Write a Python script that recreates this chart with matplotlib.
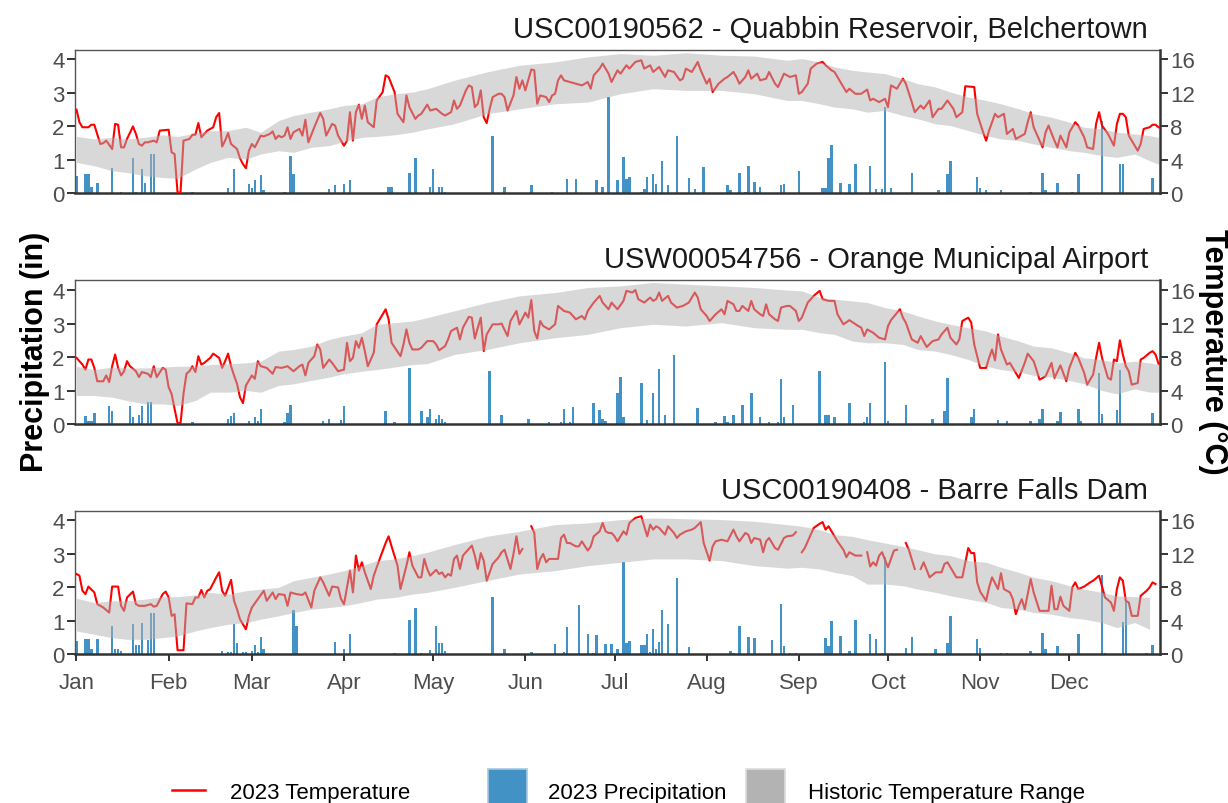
import numpy as np
import matplotlib
matplotlib.use("Agg")
import matplotlib.pyplot as plt
from matplotlib.lines import Line2D
from matplotlib.patches import Rectangle

plt.rcParams['font.family'] = ['Liberation Sans', 'DejaVu Sans']

nan = np.nan

# day-of-year axis (0 = Jan 1, 2023)
MONTH_STARTS = [0, 31, 59, 90, 120, 151, 181, 212, 243, 273, 304, 334]
MONTH_LABELS = ['Jan', 'Feb', 'Mar', 'Apr', 'May', 'Jun',
                'Jul', 'Aug', 'Sep', 'Oct', 'Nov', 'Dec']

TITLES = ['USC00190562 - Quabbin Reservoir, Belchertown',
          'USW00054756 - Orange Municipal Airport',
          'USC00190408 - Barre Falls Dam']

# historic temperature range (deg C), sampled on these days
BAND_DAYS = [0, 6, 12, 17, 23, 29, 34, 40, 45, 51, 57, 62, 68, 73, 79, 85, 90, 96,
             101, 107, 113, 118, 127, 138, 149, 161, 172, 183, 194, 205, 217, 228,
             239, 244, 250, 255, 261, 266, 272, 278, 283, 289, 294, 300, 306, 311,
             317, 322, 328, 334, 339, 345, 350, 356, 361, 364]

quabbin_hi = [6.8, 6.5, 6.7, 6.5, 6.7, 7.0, 6.8, 7.2, 7.5, 7.5, 7.9, 7.3, 8.7, 9.3,
              9.7, 10.1, 10.5, 10.7, 11.5, 11.9, 12.1, 12.5, 13.5, 14.5, 15.3, 15.7,
              16.3, 16.7, 16.5, 16.8, 16.5, 16.4, 15.9, 16.1, 15.7, 15.1, 14.7, 14.5,
              14.3, 13.7, 13.1, 12.7, 12.1, 11.5, 11.1, 10.7, 10.1, 9.5, 9.1, 8.5,
              7.9, 7.7, 7.3, 7.1, 6.9, 6.7]
quabbin_lo = [3.7, 3.3, 2.7, 2.5, 2.1, 1.9, 1.8, 2.9, 3.7, 4.3, 4.1, 4.7, 5.1, 4.9,
              5.5, 5.7, 6.2, 6.7, 6.8, 7.0, 7.3, 7.7, 8.3, 9.5, 10.1, 10.7, 10.9, 11.9,
              12.5, 12.3, 12.3, 11.9, 11.1, 11.1, 10.7, 10.3, 10.1, 9.7, 9.9, 9.3,
              8.9, 8.3, 8.1, 7.5, 6.9, 6.5, 6.3, 5.9, 5.5, 5.1, 4.9, 4.5, 4.3, 4.7,
              3.9, 3.5]

orange_hi = [6.9, 6.5, 6.8, 6.7, 6.7, 6.8, 6.9, 6.9, 7.1, 7.2, 7.3, 7.5, 8.7, 8.9,
             9.3, 10.1, 10.5, 10.9, 11.9, 12.1, 12.3, 12.7, 13.5, 14.5, 15.3, 15.7,
             16.3, 16.5, 16.9, 16.7, 16.5, 16.3, 16.0, 15.9, 15.1, 14.9, 14.7, 14.5,
             13.9, 13.5, 12.9, 12.3, 11.9, 11.5, 11.1, 10.5, 9.9, 9.3, 9.1, 8.5,
             7.9, 7.7, 7.3, 7.5, 7.3, 7.1]
orange_lo = [3.4, 3.4, 3.2, 2.8, 2.4, 2.4, 2.2, 2.8, 3.8, 3.8, 4.0, 3.8, 4.6, 4.8,
             5.2, 5.6, 6.0, 6.3, 6.5, 6.8, 7.1, 7.2, 8.3, 8.9, 9.7, 10.3, 10.7, 11.5,
             11.9, 11.7, 12.1, 11.5, 11.3, 11.3, 10.9, 10.7, 9.9, 9.7, 9.7, 9.5,
             8.9, 8.7, 8.3, 7.7, 6.9, 6.5, 6.2, 5.8, 5.6, 5.2, 4.8, 4.0, 3.6, 4.2,
             3.8, 3.8]

barre_hi = [6.7, 6.2, 6.4, 6.4, 6.6, 6.9, 6.9, 7.1, 7.4, 7.2, 7.6, 7.8, 8.0, 8.8,
            9.2, 9.6, 10.0, 10.6, 11.2, 11.4, 11.8, 12.2, 13.1, 14.1, 14.7, 15.5,
            15.7, 16.1, 16.3, 16.2, 16.1, 15.9, 15.5, 15.3, 14.9, 14.3, 14.1, 13.7,
            13.3, 12.9, 12.5, 12.0, 11.8, 11.2, 11.0, 10.4, 9.8, 9.2, 8.8, 8.2,
            7.8, 7.4, 7.0, 6.9, 6.8, nan]
barre_lo = [2.8, 2.4, 2.0, 1.8, 1.8, 2.0, 2.2, 2.8, 3.2, 3.6, 3.8, 4.2, 4.6, 5.0,
            5.4, 5.6, 5.8, 6.2, 6.6, 6.8, 7.2, 7.4, 8.0, 8.8, 9.6, 10.0, 10.6, 11.0,
            11.4, 11.4, 11.2, 10.6, 10.3, 10.4, 10.2, 9.8, 9.4, 8.4, 8.4, 8.2,
            7.8, 7.4, 7.0, 6.6, 6.2, 5.6, 5.4, 5.0, 4.8, 4.4, 4.2, 3.8, 3.2, 3.8,
            3.0, nan]

# 2023 daily mean temperature (deg C), day -> value
quabbin_temp = {
    0: 10.0, 1: 8.5, 2: 7.9, 4: 7.9, 5: 8.2, 6: 8.2, 8: 5.9, 9: 6.0, 10: 6.3, 11: 5.8,
    12: 5.3, 13: 8.3, 14: 8.2, 15: 5.5, 16: 5.5, 17: 6.5, 19: 8.0, 20: 7.1, 21: 5.9,
    22: 5.7, 23: 6.1, 24: 6.1, 26: 6.3, 27: 6.1, 28: 7.5, 31: 7.6, 32: 4.9, 33: 4.7,
    34: 0.1, 35: 0.1, 36: 6.3, 38: 6.5, 39: 7.0, 40: 7.0, 41: 8.4, 42: 6.7, 44: 7.5,
    46: 7.9, 47: 9.1, 48: 9.6, 49: 5.6, 50: 6.3, 51: 7.2, 52: 5.9, 54: 5.3, 55: 4.2,
    56: 3.5, 57: 3.0, 58: 5.1, 59: 5.9, 60: 5.5, 62: 6.9, 63: 6.8, 65: 7.1, 66: 7.4,
    67: 6.5, 68: 6.9, 69: 6.7, 70: 6.9, 71: 7.9, 72: 6.5, 73: 7.3, 75: 7.7, 76: 6.9,
    77: 8.8, 78: 6.1, 80: 7.9, 82: 9.6, 83: 8.9, 84: 6.9, 86: 8.3, 87: 8.1, 88: 6.9,
    90: 5.7, 91: 6.3, 92: 9.7, 93: 6.3, 94: 9.7, 95: 10.6, 96: 8.9, 97: 10.5, 98: 8.5,
    100: 7.9, 101: 11.1, 103: 12.1, 104: 14.1, 105: 13.9, 107: 12.1, 108: 9.5,
    110: 8.5, 111: 11.7, 112: 10.3, 114: 8.9, 115: 9.3, 116: 9.5, 118: 10.6, 119: 9.9,
    121: 10.1, 123: 9.5, 124: 9.3, 126: 9.7, 127: 11.1, 128: 10.1, 129: 10.5,
    131: 12.3, 132: 12.9, 133: 12.7, 134: 10.3, 135: 10.7, 136: 12.3, 137: 9.1,
    138: 8.4, 139: 10.1, 140: 11.5, 142: 11.9, 143: 11.9, 144: 11.5, 145: 9.9,
    147: 11.7, 148: 13.9, 149: 12.5, 150: 13.5, 151: 12.3, 153: 14.8, 154: 14.7,
    155: 10.7, 156: 11.7, 158: 11.5, 159: 10.9, 160: 11.7, 161: 11.9, 162: 13.5,
    163: 14.1, 164: 13.5, 166: 13.3, 168: 13.1, 170: 12.9, 172: 13.3, 173: 12.5,
    174: 14.1, 176: 14.9, 177: 15.5, 179: 14.3, 180: 13.3, 182: 14.7, 183: 14.3,
    185: 15.3, 186: 14.9, 188: 15.7, 190: 15.9, 191: 14.9, 193: 15.3, 194: 14.5,
    196: 15.1, 198: 13.9, 199: 14.7, 201: 14.5, 203: 13.5, 204: 13.7, 205: 14.9,
    207: 14.5, 209: 15.7, 210: 14.7, 212: 13.1, 213: 13.7, 214: 12.1, 216: 13.1,
    218: 13.7, 219: 13.9, 221: 14.5, 222: 13.9, 223: 13.1, 225: 13.9, 226: 14.7,
    227: 13.7, 229: 14.3, 230: 13.5, 232: 13.7, 233: 14.5, 235: 13.1, 236: 12.7,
    238: 14.3, 240: 13.9, 242: 14.1, 243: 11.9, 244: 12.1, 246: 13.1, 247: 14.9,
    249: 15.5, 251: 15.7, 252: 15.3, 254: 14.7, 255: 14.5, 257: 13.3, 259: 12.1,
    260: 12.5, 262: 11.9, 264: 11.9, 266: 12.4, 267: 11.1, 268: 11.3, 270: 10.9,
    272: 11.3, 273: 10.3, 274: 12.9, 276: 12.5, 278: 13.7, 279: 13.1, 281: 10.9,
    282: 9.7, 284: 10.5, 285: 10.1, 287: 11.1, 288: 9.1, 290: 10.1, 291: 10.1,
    293: 11.1, 295: 10.1, 296: 9.1, 298: 9.7, 299: 12.8, 302: 12.7, 303: 9.5,
    305: 7.3, 306: 6.3, 307: 7.5, 309: 9.5, 310: 9.1, 312: 9.5, 313: 7.1, 315: 7.7,
    316: 6.5, 319: 7.1, 320: 8.5, 321: 9.7, 322: 7.9, 325: 5.5, 326: 7.3, 327: 8.1,
    329: 6.3, 330: 5.5, 331: 6.9, 333: 5.5, 334: 7.3, 336: 8.5, 337: 8.1, 339: 6.7,
    340: 5.5, 342: 5.3, 343: 8.3, 344: 9.7, 345: 8.1, 347: 7.1, 349: 5.7, 350: 8.3,
    351: 9.5, 352: 9.5, 353: 9.1, 354: 6.9, 355: 6.3, 357: 5.1, 358: 5.9, 359: 7.7,
    361: 7.9, 362: 8.2, 363: 8.2, 364: 7.9}

orange_temp = {
    0: 7.9, 2: 7.1, 3: 6.5, 4: 7.7, 5: 7.7, 6: 6.7, 7: 5.1, 9: 5.1, 10: 5.8, 11: 5.0,
    12: 6.9, 13: 8.3, 14: 6.7, 15: 5.8, 16: 6.3, 17: 7.5, 18: 6.9, 20: 6.3, 21: 5.6,
    22: 6.2, 24: 6.0, 25: 5.6, 26: 6.9, 27: 5.6, 29: 6.7, 30: 6.5, 31: 4.4, 32: 3.6,
    33: 1.8, 34: 0.1, 35: 0.1, 36: 3.6, 37: 6.0, 38: 6.3, 39: 6.9, 40: 6.2, 41: 8.1,
    42: 7.1, 43: 7.3, 45: 7.9, 46: 8.4, 48: 7.9, 49: 6.7, 50: 7.5, 51: 8.4, 52: 6.9,
    53: 5.8, 54: 4.8, 55: 3.2, 56: 2.5, 57: 4.6, 58: 5.2, 59: 5.8, 60: 5.4, 61: 7.5,
    62: 6.9, 64: 6.7, 66: 6.0, 67: 6.8, 69: 6.7, 71: 6.9, 73: 6.3, 75: 6.9, 76: 7.1,
    77: 5.8, 78: 7.3, 80: 8.1, 81: 9.5, 82: 8.9, 83: 6.7, 85: 7.7, 86: 7.3, 88: 6.3,
    90: 6.5, 91: 9.7, 92: 7.5, 93: 7.9, 94: 9.9, 95: 9.1, 96: 10.3, 97: 8.7, 98: 6.9,
    100: 8.5, 101: 11.9, 103: 13.1, 104: 13.7, 105: 12.5, 106: 9.7, 109: 8.1,
    110: 9.5, 111: 11.3, 112: 9.7, 113: 8.9, 115: 8.9, 116: 9.1, 118: 9.9, 120: 9.9,
    121: 9.5, 122: 8.8, 124: 9.3, 125: 10.1, 126: 11.1, 128: 11.5, 129: 10.1,
    130: 11.5, 132: 12.8, 133: 12.7, 134: 10.2, 135: 11.5, 136: 12.7, 137: 8.7,
    138: 10.7, 140: 11.9, 142: 11.9, 143: 12.0, 145: 10.5, 146: 12.3, 148: 13.5,
    149: 11.9, 151: 13.3, 152: 12.7, 153: 14.8, 154: 11.1, 155: 10.2, 156: 12.3,
    157: 11.7, 159: 11.3, 161: 11.9, 162: 14.1, 164: 13.5, 166: 13.3, 167: 12.9,
    168: 12.5, 170: 12.9, 171: 12.5, 172: 13.5, 174: 14.5, 176: 15.3, 177: 14.5,
    179: 13.7, 180: 14.5, 182: 13.7, 184: 14.7, 185: 15.9, 187: 15.7, 188: 16.0,
    189: 14.9, 191: 14.5, 193: 15.1, 194: 14.7, 195: 14.9, 196: 15.7, 197: 14.7,
    199: 15.3, 200: 14.5, 202: 13.9, 204: 14.1, 206: 14.5, 208: 15.7, 209: 15.1,
    210: 13.7, 212: 12.9, 213: 12.3, 215: 13.1, 217: 13.7, 218: 13.1, 219: 14.7,
    221: 14.3, 222: 13.5, 223: 13.5, 224: 14.1, 226: 13.5, 227: 14.7, 228: 13.7,
    230: 13.1, 231: 12.9, 232: 14.3, 233: 13.1, 235: 12.5, 236: 12.3, 237: 13.9,
    239: 14.1, 240: 14.1, 242: 13.5, 243: 12.3, 244: 12.7, 246: 14.5, 248: 15.3,
    250: 15.9, 251: 14.9, 253: 14.7, 255: 14.7, 256: 13.1, 258: 11.9, 260: 12.4,
    263: 11.7, 264: 11.5, 265: 10.5, 266: 11.3, 268: 10.9, 270: 10.3, 272: 10.1,
    273: 11.7, 274: 12.4, 277: 13.7, 278: 12.7, 279: 12.1, 281: 10.1, 283: 9.7,
    284: 10.5, 286: 9.2, 288: 9.9, 290: 10.1, 291: 10.7, 293: 11.5, 294: 10.3,
    296: 9.5, 297: 10.1, 298: 12.3, 300: 12.7, 301: 12.1, 302: 9.5, 303: 8.1,
    304: 6.7, 306: 6.7, 307: 7.9, 308: 8.9, 309: 7.6, 310: 10.7, 311: 8.9, 313: 7.1,
    314: 7.3, 316: 6.1, 317: 5.5, 319: 7.3, 320: 8.4, 322: 7.5, 324: 5.3, 326: 5.7,
    328: 7.3, 329: 5.5, 331: 7.0, 333: 5.1, 334: 6.7, 336: 8.5, 337: 7.9, 339: 6.1,
    340: 4.7, 342: 5.9, 343: 7.9, 344: 9.7, 345: 7.9, 347: 5.5, 348: 5.3, 349: 7.7,
    350: 7.5, 351: 10.0, 352: 8.3, 353: 6.9, 354: 6.3, 355: 4.7, 357: 4.9, 358: 7.7,
    359: 7.9, 361: 8.5, 362: 8.7, 363: 8.3, 364: 7.2}

barre_temp = {
    0: 9.6, 1: 9.4, 2: 7.6, 3: 7.2, 4: 8.1, 6: 7.4, 7: 6.0, 9: 5.6, 11: 5.0, 12: 8.1,
    14: 8.1, 15: 5.8, 16: 5.2, 17: 6.8, 19: 7.5, 20: 6.0, 21: 5.8, 23: 5.8, 25: 6.0,
    26: 5.7, 27: 5.8, 29: 7.2, 30: 7.5, 31: 6.8, 32: 4.6, 33: 4.8, 34: 0.5, 36: 0.5,
    37: 6.1, 39: 6.0, 40: 6.8, 41: 6.8, 42: 7.7, 43: 6.8, 44: 7.6, 45: 7.8, 47: 9.2,
    48: 9.8, 49: 7.6, 50: 7.0, 52: 8.9, 53: 6.4, 54: 5.4, 55: 4.2, 57: 3.0, 58: 4.6,
    59: 5.6, 61: 6.6, 63: 7.6, 64: 6.4, 66: 7.4, 67: 6.6, 68: 7.2, 70: 7.1, 71: 5.8,
    72: 7.4, 74: 7.2, 76: 7.1, 77: 7.4, 79: 5.6, 80: 7.6, 82: 9.2, 83: 8.6, 85: 7.0,
    86: 8.1, 88: 8.0, 89: 6.6, 90: 6.0, 92: 10.0, 93: 7.4, 94: 11.8, 95: 10.0,
    96: 11.0, 97: 9.8, 99: 7.8, 100: 9.4, 102: 11.4, 104: 13.3, 105: 14.1, 106: 12.9,
    108: 10.6, 109: 7.8, 111: 10.6, 112: 12.2, 113: 10.6, 115: 9.2, 116: 9.2,
    117: 11.4, 118: 10.2, 119: 9.4, 121: 10.1, 122: 9.6, 123: 9.8, 124: 9.2, 125: 9.6,
    126: 9.4, 127: 11.4, 128: 11.8, 129: 10.2, 130: 11.8, 132: 12.6, 133: 13.0,
    134: 11.8, 135: 10.2, 136: 12.1, 137: 11.2, 138: 8.8, 139: 9.8, 140: 10.8,
    142: 11.6, 143: 12.2, 144: 12.5, 146: 10.2, 147: 12.0, 148: 14.1, 149: 12.0,
    150: 12.6, 151: nan, 153: 15.3, 154: 14.5, 155: 10.2, 156: 11.4, 157: 12.0,
    158: 11.0, 159: 11.4, 161: 11.4, 162: 11.4, 163: 13.9, 164: 14.3, 165: 13.3,
    166: 13.3, 168: 12.9, 169: 12.9, 170: 13.5, 172: 12.4, 173: 12.9, 174: 14.1,
    176: 14.7, 177: 15.7, 178: 14.7, 179: 14.5, 180: 14.5, 181: 14.1, 182: 13.5,
    184: 14.7, 185: 14.3, 186: 15.7, 188: 16.3, 190: 16.5, 191: 15.3, 192: 14.1,
    193: 15.5, 194: 14.9, 195: 15.3, 196: 15.1, 198: 14.3, 199: 15.3, 200: 14.9,
    201: 14.5, 202: 13.9, 203: 14.3, 205: 14.7, 207: 14.9, 208: 15.1, 210: 15.8,
    211: 13.3, 213: 11.2, 214: 12.9, 215: 13.5, 217: 13.7, 219: 13.5, 221: 14.9,
    222: 14.1, 223: 13.5, 225: 14.5, 226: 14.3, 227: 13.3, 228: 13.9, 230: 13.7,
    231: 12.2, 232: 13.5, 233: 13.9, 235: 12.7, 236: 12.5, 238: 13.9, 239: 14.1,
    241: 14.2, 242: 14.6, 243: nan, 244: 12.2, 245: 12.7, 246: 13.5, 248: 15.1,
    250: 15.6, 251: 15.8, 252: 14.9, 253: 15.3, 255: 14.1, 256: 13.5, 258: 12.5,
    259: 11.6, 260: 12.2, 262: 11.8, 264: 11.8, 265: nan, 266: 12.2, 267: 10.5,
    268: 11.0, 269: 10.6, 270: 11.8, 271: 12.2, 273: 10.4, 275: 12.4, 276: 12.5,
    277: nan, 279: 13.3, 280: 12.5, 282: 10.2, 283: nan, 284: 10.2, 285: 11.0,
    287: 9.2, 289: 9.8, 291: 9.8, 292: 10.8, 293: 11.0, 294: 10.4, 296: 9.2,
    298: 9.2, 300: 12.7, 301: 12.1, 302: 12.1, 303: 8.6, 304: 7.5, 306: 6.4,
    307: 8.0, 308: 9.2, 310: 7.8, 311: 9.7, 312: 7.8, 314: 7.4, 315: 6.6, 316: 4.8,
    317: 5.8, 318: 6.6, 319: 5.4, 321: 9.0, 322: 7.4, 324: 5.2, 327: 5.2, 328: 8.2,
    329: 5.4, 330: 5.4, 331: 6.9, 332: 5.8, 334: 5.2, 335: 8.0, 336: 8.6, 337: 7.8,
    339: 8.1, 341: 8.6, 342: 8.8, 344: 9.4, 345: 8.1, 346: 6.8, 348: 6.2, 349: 5.2,
    350: 7.8, 351: 9.2, 352: 8.8, 353: 6.4, 354: 6.2, 355: 4.6, 357: 4.6, 358: 7.0,
    360: 7.6, 361: 8.0, 362: 8.6, 363: 8.4}

# 2023 daily precipitation (in), day -> value (dry days left out)
quabbin_prcp = {
    0: 0.52, 3: 0.57, 4: 0.57, 5: 0.19, 7: 0.32, 12: 0.77, 15: 0.05, 19: 1.07,
    20: 0.05, 22: 0.72, 23: 0.32, 25: 1.19, 26: 1.19, 39: 0.05, 51: 0.17, 53: 0.72,
    58: 0.29, 59: 0.17, 60: 0.39, 62: 0.55, 63: 0.09, 70: 0.05, 72: 1.12, 73: 0.57,
    85: 0.12, 87: 0.25, 90: 0.29, 92: 0.39, 105: 0.19, 106: 0.19, 112: 0.62,
    114: 1.05, 119: 0.19, 120: 0.72, 122: 0.19, 123: 0.19, 124: 0.05, 140: 1.72,
    144: 0.19, 153: 0.24, 160: 0.05, 165: 0.42, 168: 0.42, 175: 0.39, 177: 0.19,
    179: 2.87, 182: 0.39, 184: 1.09, 185: 0.42, 186: 0.49, 190: 0.05, 191: 0.12,
    192: 0.49, 194: 0.57, 195: 0.27, 197: 0.97, 199: 0.25, 202: 1.72, 206: 0.47,
    208: 0.12, 211: 0.79, 219: 0.25, 220: 0.09, 223: 0.6, 225: 0.05, 226: 0.82,
    228: 0.35, 229: 0.05, 230: 0.19, 237: 0.25, 238: 0.29, 243: 0.67, 251: 0.15,
    252: 0.15, 253: 1.05, 254: 1.45, 257: 0.3, 260: 0.27, 262: 0.87, 267: 0.82,
    269: 0.12, 271: 0.12, 272: 2.57, 274: 0.15, 281: 0.6, 290: 0.09, 293: 0.57,
    294: 0.97, 303: 0.49, 304: 0.15, 306: 0.09, 311: 0.09, 321: 0.05, 325: 0.6,
    326: 0.09, 330: 0.32, 335: 0.05, 337: 0.57, 345: 2.15, 351: 0.89, 352: 0.89,
    362: 0.45}

orange_prcp = {
    3: 0.25, 4: 0.1, 5: 0.08, 6: 0.32, 11: 0.53, 12: 0.4, 18: 0.53, 19: 0.2, 21: 0.28,
    22: 0.55, 24: 0.65, 25: 0.65, 39: 0.05, 51: 0.15, 52: 0.25, 53: 0.32, 58: 0.1,
    60: 0.2, 61: 0.1, 62: 0.45, 70: 0.05, 71: 0.32, 72: 0.58, 83: 0.1, 85: 0.15,
    89: 0.12, 90: 0.53, 104: 0.38, 107: 0.05, 112: 1.67, 116: 0.38, 118: 0.2,
    119: 0.45, 121: 0.15, 122: 0.28, 123: 0.15, 124: 0.05, 139: 1.59, 143: 0.28,
    152: 0.15, 159: 0.05, 163: 0.05, 164: 0.45, 166: 0.05, 167: 0.5, 174: 0.63,
    176: 0.42, 177: 0.15, 178: 0.1, 182: 0.94, 183: 1.41, 184: 0.2, 190: 1.21,
    192: 0.12, 194: 0.92, 196: 1.63, 198: 0.28, 201: 2.06, 209: 0.48, 215: 0.05,
    218: 0.25, 219: 0.05, 221: 0.28, 224: 0.57, 227: 0.92, 230: 0.2, 233: 0.05,
    236: 0.05, 237: 1.34, 238: 0.22, 241: 0.57, 250: 1.59, 252: 0.28, 253: 0.28,
    255: 0.2, 260: 0.63, 265: 0.05, 266: 0.2, 267: 0.63, 272: 1.86, 273: 0.08,
    279: 0.57, 288: 0.15, 292: 0.38, 293: 1.37, 301: 0.22, 302: 0.45, 310: 0.12,
    313: 0.08, 321: 0.1, 324: 0.15, 325: 0.45, 330: 0.08, 331: 0.35, 337: 0.45,
    338: 0.08, 344: 1.52, 345: 0.3, 350: 0.42, 351: 1.62, 362: 0.32}

barre_prcp = {
    0: 0.4, 3: 0.45, 4: 0.45, 5: 0.15, 7: 0.45, 12: 0.85, 13: 0.15, 14: 0.15, 15: 0.1,
    19: 0.9, 20: 0.27, 21: 0.27, 22: 0.95, 24: 0.43, 25: 1.24, 26: 1.24, 49: 0.1,
    51: 0.07, 52: 0.07, 53: 0.9, 54: 0.35, 56: 0.07, 57: 0.07, 59: 0.1, 60: 0.27,
    61: 0.07, 62: 0.53, 63: 0.15, 73: 1.32, 74: 0.85, 87: 0.37, 90: 0.17, 92: 0.62,
    107: 0.03, 112: 1.02, 114: 1.39, 116: 0.03, 119: 0.13, 121: 0.85, 122: 0.33,
    123: 0.33, 124: 0.1, 140: 1.72, 144: 0.17, 153: 0.07, 161: 0.3, 164: 0.07,
    165: 0.82, 169: 1.47, 172: 0.62, 174: 0.03, 175: 0.58, 178: 0.3, 180: 0.3,
    182: 0.17, 184: 2.76, 185: 0.35, 186: 0.4, 190: 0.27, 191: 0.27, 192: 0.62,
    193: 0.07, 194: 0.75, 195: 0.15, 196: 0.37, 197: 1.32, 199: 0.92, 202: 2.29,
    206: 0.23, 220: 0.1, 221: 0.05, 223: 0.85, 226: 0.53, 228: 0.5, 234: 0.42,
    237: 1.51, 238: 0.25, 240: 0.05, 242: 0.03, 252: 0.48, 253: 0.25, 254: 1.0,
    257: 0.55, 260: 0.1, 262: 1.02, 267: 0.62, 269: 0.45, 271: 0.03, 272: 2.9,
    279: 0.2, 281: 0.53, 289: 0.17, 293: 0.35, 294: 1.14, 303: 0.45, 304: 0.2,
    311: 0.03, 313: 0.03, 321: 0.1, 325: 0.63, 326: 0.17, 330: 0.25, 337: 0.6,
    345: 2.36, 346: 0.03, 352: 0.97, 353: 1.59, 360: 0.03, 362: 0.27}

STATIONS = [
    (TITLES[0], quabbin_temp, quabbin_prcp, quabbin_lo, quabbin_hi),
    (TITLES[1], orange_temp, orange_prcp, orange_lo, orange_hi),
    (TITLES[2], barre_temp, barre_prcp, barre_lo, barre_hi),
]

RED = '#ff0000'
BLUE = '#4292c6'
GREY = '#b3b3b3'
DARK = '#333333'
TICKTXT = '#4d4d4d'

PRCP_MAX = 4.29          # inches
TEMP_MAX = PRCP_MAX * 4  # 1 in on the left == 4 C on the right

W, H = 1228, 804
fig = plt.figure(figsize=(W / 100, H / 100), dpi=100)

panel_tops = [50.7, 281.3, 511.7]
panel_h = 143.7

for i, (title, temp, prcp, lo, hi) in enumerate(STATIONS):
    top = panel_tops[i]
    ax = fig.add_axes([75 / W, 1 - (top + panel_h) / H, 1085 / W, panel_h / H])

    ax.bar(list(prcp.keys()), list(prcp.values()), width=0.85, color=BLUE,
           linewidth=0, zorder=1)
    ax.set_xlim(-0.5, 364.5)
    ax.set_ylim(0, PRCP_MAX)
    ax.set_yticks([0, 1, 2, 3, 4])

    ax2 = ax.twinx()
    ax2.plot(list(temp.keys()), list(temp.values()), color=RED, lw=1.5, zorder=2)
    ax2.fill_between(BAND_DAYS, lo, hi, color=GREY, alpha=0.5, linewidth=0, zorder=3)
    ax2.set_ylim(0, TEMP_MAX)
    ax2.set_yticks([0, 4, 8, 12, 16])
    ax2.set_xlim(-0.5, 364.5)

    # frame: thin top/left, heavier bottom/right axis lines
    for s in ['top', 'left', 'bottom']:
        ax2.spines[s].set_visible(False)
    ax.spines['right'].set_visible(False)
    ax.spines['top'].set_color('#555555')
    ax.spines['top'].set_linewidth(1.0)
    ax.spines['left'].set_color('#555555')
    ax.spines['left'].set_linewidth(1.0)
    ax.spines['bottom'].set_color(DARK)
    ax.spines['bottom'].set_linewidth(1.8)
    ax2.spines['right'].set_color(DARK)
    ax2.spines['right'].set_linewidth(1.8)

    ax.tick_params(axis='y', length=5.5, width=1.4, color=DARK, labelsize=16,
                   labelcolor=TICKTXT, pad=2)
    ax2.tick_params(axis='y', length=5.5, width=1.4, color=DARK, labelsize=16,
                    labelcolor=TICKTXT, pad=2)

    if i == 2:
        ax.set_xticks(MONTH_STARTS)
        ax.set_xticklabels(MONTH_LABELS)
        ax.tick_params(axis='x', length=5, width=1.4, color=DARK, labelsize=16,
                       labelcolor=TICKTXT, pad=8)
    else:
        ax.set_xticks(MONTH_STARTS)
        ax.tick_params(axis='x', length=0, labelbottom=False)

    ax.annotate(title, xy=(1, 1), xycoords='axes fraction', xytext=(-8.6, 9.5),
                textcoords='offset points', ha='right', va='baseline',
                fontsize=21, color='#1a1a1a')

mid = 1 - 352 / H
fig.text(35 / W, mid, 'Precipitation (in)', rotation=90, fontsize=22,
         fontweight='bold', ha='center', va='center')
fig.text(1213 / W, mid, 'Temperature (°C)', rotation=-90, fontsize=22,
         fontweight='bold', ha='center', va='center')

# legend row along the bottom edge
ly = 1 - 794 / H
fig.add_artist(Line2D([172 / W, 205 / W], [1 - 791 / H] * 2, color=RED, lw=1.8))
fig.text(230 / W, ly, '2023 Temperature', fontsize=16, va='center', ha='left')
fig.add_artist(Rectangle((488 / W, 1 - 810 / H), 39 / W, 40 / H, facecolor=BLUE,
                         edgecolor='#a6c8e2', lw=1.2))
fig.text(548 / W, ly, '2023 Precipitation', fontsize=16, va='center', ha='left')
fig.add_artist(Rectangle((746 / W, 1 - 810 / H), 39 / W, 40 / H, facecolor=GREY,
                         edgecolor='#dcdcdc', lw=1.2))
fig.text(808 / W, ly, 'Historic Temperature Range', fontsize=16, va='center',
         ha='left')

fig.savefig('out.png', dpi=100)
